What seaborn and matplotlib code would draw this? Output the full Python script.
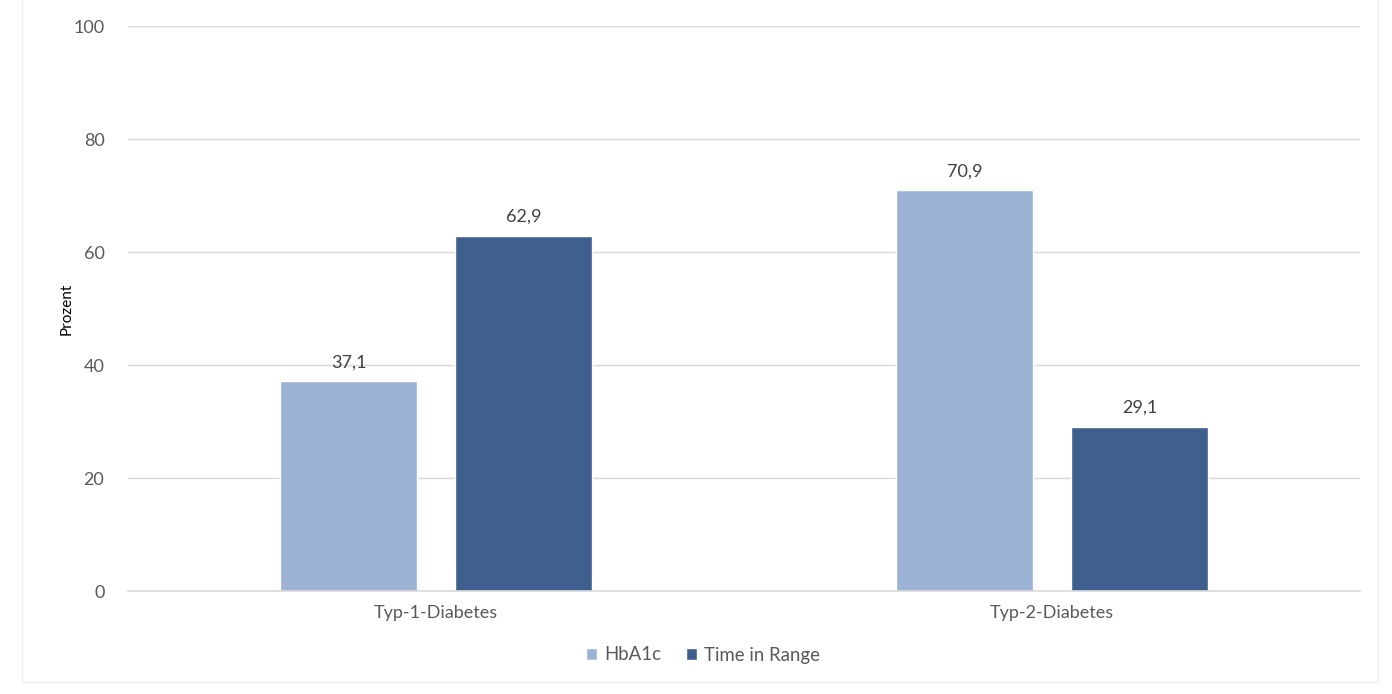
import matplotlib
matplotlib.use("Agg")
import matplotlib.pyplot as plt
import seaborn as sns
import pandas as pd
from matplotlib.patches import Rectangle

categories = ["Typ-1-Diabetes", "Typ-2-Diabetes"]
series_names = ["HbA1c", "Time in Range"]
hba1c = [37.1, 70.9]
time_in_range = [62.9, 29.1]
yticks = [0, 20, 40, 60, 80, 100]

df = pd.DataFrame({
    "Kategorie": categories * 2,
    "Serie": [series_names[0]] * 2 + [series_names[1]] * 2,
    "Wert": hba1c + time_in_range,
})

sns.set_theme(style="white")
plt.rcParams["font.family"] = ["Lato", "DejaVu Sans"]
txt = "#595959"

fig = plt.figure(figsize=(13.92, 6.94), dpi=100)
ax = fig.add_axes([0.092, 0.1484, 0.885, 0.8141])

palette = {"HbA1c": "#9DB3D5", "Time in Range": "#3F5F8E"}
sns.barplot(data=df, x="Kategorie", y="Wert", hue="Serie", palette=palette,
            width=0.568, gap=0.217, ax=ax, legend=True, saturation=1)

ax.set_ylim(0, 100)
ax.set_xlim(-0.5, 1.5)
ax.set_yticks(yticks)
ax.yaxis.grid(True, color="#D9D9D9", linewidth=1)
ax.set_axisbelow(True)
for s in ["top", "right", "left"]:
    ax.spines[s].set_visible(False)
ax.spines["bottom"].set_color("#D9D9D9")
ax.spines["bottom"].set_linewidth(1.2)
ax.tick_params(axis="both", length=0, labelsize=13, colors=txt)
ax.tick_params(axis="y", pad=17)
ax.tick_params(axis="x", pad=10)
ax.set_xlabel("")
ax.set_ylabel("Prozent", fontsize=11, color="black", labelpad=0)

for cont in ax.containers:
    labels = [f"{v:.1f}".replace(".", ",") for v in cont.datavalues]
    ax.bar_label(cont, labels=labels, padding=8, fontsize=13, color="#404040")

leg = ax.legend(loc="center", bbox_to_anchor=(703 / 1392, 1 - 655 / 694),
                bbox_transform=fig.transFigure, ncol=2,
                frameon=False, fontsize=13.4, handlelength=0.6, handleheight=0.6,
                handletextpad=0.4, columnspacing=1.3)
for t in leg.get_texts():
    t.set_color(txt)

fig.patches.append(Rectangle((22 / 1392, 1 - 682 / 694), (1378 - 22) / 1392, 682 / 694 + 0.01,
                             transform=fig.transFigure, fill=False,
                             edgecolor="#EEEEEE", linewidth=1))

fig.savefig("out.png", dpi=100)
